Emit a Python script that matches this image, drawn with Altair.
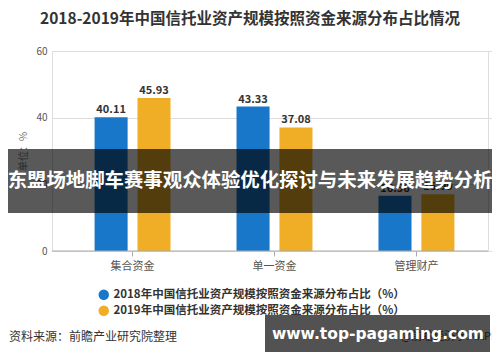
import altair as alt
import pandas as pd

categories = ["集合资金", "单一资金", "管理财产"]
series = ["2018年中国信托业资产规模按照资金来源分布占比（%）",
          "2019年中国信托业资产规模按照资金来源分布占比（%）"]
v2018 = [40.11, 43.33, 16.56]
v2019 = [45.93, 37.08, 16.99]
colors = ["#1877c8", "#f0ae26"]

title_text = "2018-2019年中国信托业资产规模按照资金来源分布占比情况"
banner_text = "东盟场地脚车赛事观众体验优化探讨与未来发展趋势分析"
source_text = "资料来源：前瞻产业研究院整理"
app_text = "@前瞻经济学人APP"
site_text = "www.top-pagaming.com"

rows = []
for c, a, b in zip(categories, v2018, v2019):
    rows.append({"cat": c, "series": series[0], "value": a, "label": f"{a:.2f}"})
    rows.append({"cat": c, "series": series[1], "value": b, "label": f"{b:.2f}"})
df = pd.DataFrame(rows)

FONT = "Noto Sans CJK SC"
W, H = 436, 200

x = alt.X("cat:N", sort=categories, title=None,
          scale=alt.Scale(range=[0, 445], paddingInner=0.465, paddingOuter=0.3),
          axis=alt.Axis(labelAngle=0, labelColor="#555", labelFontSize=11,
                        domain=False, tickColor="#aaa", tickSize=5,
                        labelPadding=4, labelFont=FONT))
xo = alt.XOffset("series:N", sort=series,
                 scale=alt.Scale(paddingInner=0.23, paddingOuter=0))
y = alt.Y("value:Q", title="单位：%",
          scale=alt.Scale(domain=[0, 60]),
          axis=alt.Axis(values=[0, 20, 40, 60], grid=True, gridColor="#dddddd",
                        domain=False, ticks=False, labelColor="#555",
                        labelFontSize=10, labelPadding=5, titleColor="#777",
                        titleFontSize=10, titleFontWeight="normal",
                        titlePadding=7, labelFont=FONT, titleFont=FONT))
color = alt.Color("series:N", sort=series,
                  scale=alt.Scale(domain=series, range=colors),
                  legend=alt.Legend(orient="none", legendX=46, legendY=238,
                                    title=None, symbolType="circle",
                                    symbolSize=110, labelFontSize=11.5,
                                    labelFontWeight="bold", labelColor="#333",
                                    labelFont=FONT, rowPadding=3, labelLimit=0,
                                    symbolStrokeWidth=0))

base = alt.Chart(df)
bars = base.mark_bar().encode(x=x, xOffset=xo, y=y, color=color)
labels = base.mark_text(dy=-7, fontSize=11, fontWeight="bold", color="#333",
                        font=FONT).encode(x=x, xOffset=xo, y=y,
                                          text="label:N")

one = pd.DataFrame({"t": [0]})
baseline = alt.Chart(one).mark_rule(color="#aaa").encode(
    x=alt.value(0), x2=alt.value(W), y=alt.datum(0, scale=alt.Scale(domain=[0, 60])))

def txt(s, xv, yv, **kw):
    return alt.Chart(one).mark_text(**kw).encode(
        x=alt.value(xv), y=alt.value(yv), text=alt.value(s))

title = txt(title_text, 198, -32, font=FONT, fontSize=15.5, fontWeight="bold",
            color="#333")
source = txt(source_text, -43, 286, font=FONT, fontSize=12, color="#333",
             align="left")
app = txt(app_text, 446, 286, font=FONT, fontSize=11, color="#555",
          align="right")
banner_rect = alt.Chart(one).mark_rect(color="#000", opacity=0.65).encode(
    x=alt.value(-44), x2=alt.value(440), y=alt.value(98), y2=alt.value(162))
banner = txt(banner_text, 198, 130, font=FONT, fontSize=19.4,
             fontWeight="bold", color="#ffffff")
wm_rect = alt.Chart(one).mark_rect(color="#000", opacity=0.68).encode(
    x=alt.value(213), x2=alt.value(438), y=alt.value(264), y2=alt.value(301))
wm = txt(site_text, 326, 283, font="DejaVu Sans", fontSize=15.5,
         fontWeight="bold", color="#ffffff")

chart = alt.layer(bars, baseline, labels, title, source, app, banner_rect,
                  banner, wm_rect, wm).resolve_scale(y="shared").properties(
    width=W, height=H,
    autosize=alt.AutoSizeParams(type="none"),
    padding={"left": 44, "top": 43, "right": 4, "bottom": 103},
).configure_view(stroke=None).configure(font=FONT)

chart.save("out.html", embed_options={"renderer": "svg", "actions": False})
